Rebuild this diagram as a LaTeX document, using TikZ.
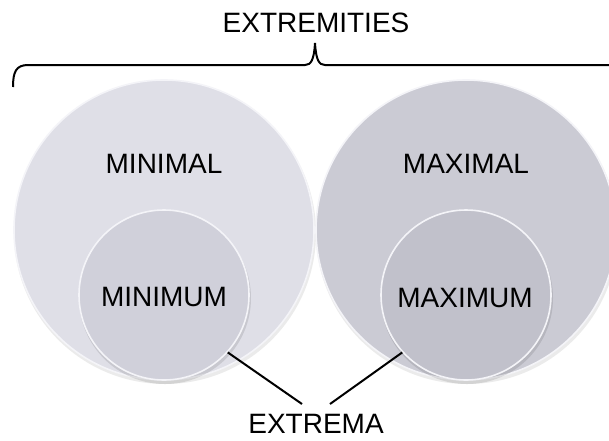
\documentclass[tikz,border=0pt]{standalone}
\usepackage{fontspec}
\setmainfont{Liberation Sans}
\definecolor{bigL}{HTML}{DFDFE7}
\definecolor{smallL}{HTML}{D0D0DA}
\definecolor{bigR}{HTML}{CBCBD4}
\definecolor{smallR}{HTML}{C1C1CB}
\definecolor{rim}{HTML}{F4F4F8}
\tikzset{
  disc/.style={circle, inner sep=0pt, draw=rim, line width=1.6pt},
  lbl/.style={inner sep=0pt, font=\fontsize{28}{30}\selectfont, text=black},
  ln/.style={line width=2pt, black},
}
\begin{document}
\begin{tikzpicture}[x=1pt,y=-1pt]
\useasboundingbox (0,0) rectangle (609,440);
\clip (0,0) rectangle (609,440);
\fill[white] (0,0) rectangle (609,440);
% soft shadows
\fill[black, opacity=0.08] (165,233) circle (151);
\fill[black, opacity=0.08] (467,233) circle (151);
% left pair
\node[disc, fill=bigL, minimum size=300pt] (bigleft) at (164,230) {};
\fill[black, opacity=0.10] (165,298) circle (86);
\node[disc, fill=smallL, minimum size=170pt] (smallleft) at (164,295) {};
% right pair
\node[disc, fill=bigR, minimum size=300pt] (bigright) at (466,230) {};
\fill[black, opacity=0.10] (467,298) circle (86);
\node[disc, fill=smallR, minimum size=170pt] (smallright) at (466,295) {};
% labels
\node[lbl] (minimal) at (164,164) {MINIMAL};
\node[lbl] (minimum) at (164,297) {MINIMUM};
\node[lbl] (maximal) at (466,164) {MAXIMAL};
\node[lbl] (maximum) at (465,298) {MAXIMUM};
\node[lbl] (extremities) at (316,23) {EXTREMITIES};
\node[lbl] (extrema) at (316,424) {EXTREMA};
% brace
\draw[ln] (13,87) .. controls (13,72) and (16,65) .. (28,65) -- (305,65)
  .. controls (311,65) and (314,60) .. (315,43)
  .. controls (316,60) and (319,65) .. (325,65) -- (612,65);
% connectors
\coordinate (eL) at (302,404);
\coordinate (eR) at (330,404);
\draw[ln] (smallleft.-42) -- (eL);
\draw[ln] (smallright.-138) -- (eR);
\end{tikzpicture}
\end{document}
